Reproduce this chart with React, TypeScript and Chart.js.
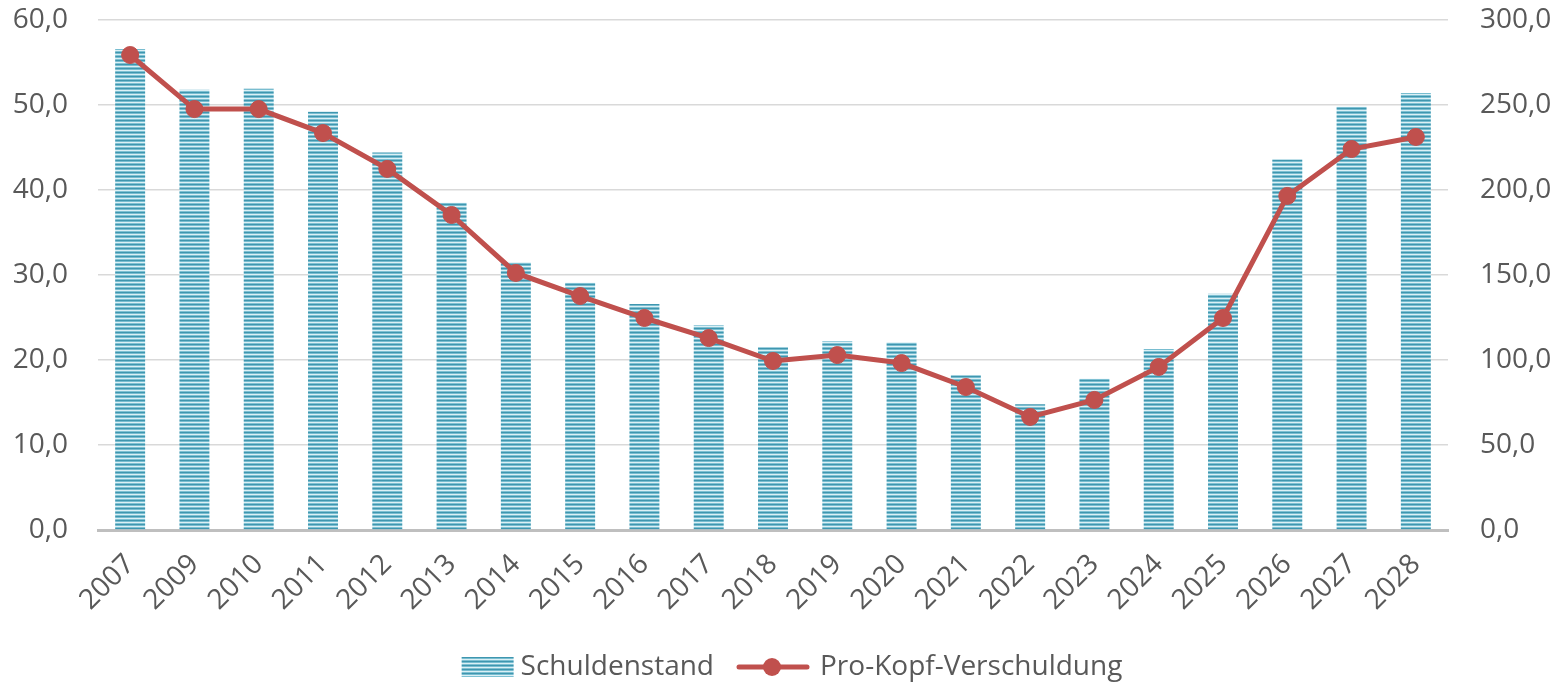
import React, { useEffect, useRef } from "react";
import { Chart, registerables } from "chart.js";

Chart.register(...registerables);

const years = ["2007", "2009", "2010", "2011", "2012", "2013", "2014", "2015", "2016", "2017", "2018", "2019", "2020", "2021", "2022", "2023", "2024", "2025", "2026", "2027", "2028"];
const schuldenstand = [56.6, 51.8, 51.9, 49.2, 44.4, 38.5, 31.5, 29.1, 26.6, 24.1, 21.5, 22.2, 22.1, 18.2, 14.8, 17.8, 21.3, 27.8, 43.6, 49.8, 51.4];
const proKopf = [279.4, 247.6, 247.6, 233.5, 212.4, 185.3, 151.2, 137.6, 124.7, 112.9, 99.4, 102.9, 98.2, 84.1, 66.5, 76.5, 95.9, 124.7, 196.5, 224.1, 231.2];
const leftTicks = [0, 10, 20, 30, 40, 50, 60];
const rightTicks = [0, 50, 100, 150, 200, 250, 300];
const seriesNames = ["Schuldenstand", "Pro-Kopf-Verschuldung"];

const FONT = "'Open Sans', 'Noto Sans', sans-serif";
const FS = 28;
const TEXT = "#595959";
const LINE = "#c0504d";

function makeStripeCanvas(w: number, h: number) {
  const c = document.createElement("canvas");
  c.width = w;
  c.height = h;
  const ctx = c.getContext("2d")!;
  const rows = ["#3f96af", "#78bdd0", "#dcf0f5", "#7fc1d3"];
  for (let y = 0; y < h; y++) {
    ctx.fillStyle = rows[y % rows.length];
    ctx.fillRect(0, y, w, 1);
  }
  return c;
}

export default function App() {
  const ref = useRef<HTMLCanvasElement | null>(null);

  useEffect(() => {
    document.body.style.margin = "0";
    document.body.style.overflow = "hidden";
    const canvas = ref.current!;
    const ctx = canvas.getContext("2d")!;
    const pattern = ctx.createPattern(makeStripeCanvas(4, 4), "repeat")!;

    const barImg = document.createElement("canvas");
    barImg.width = 100;
    barImg.height = 24;
    {
      const c = barImg.getContext("2d")!;
      const s = makeStripeCanvas(52, 20);
      c.drawImage(s, 37, 2);
    }
    const lineImg = document.createElement("canvas");
    lineImg.width = 100;
    lineImg.height = 24;
    {
      const c = lineImg.getContext("2d")!;
      c.strokeStyle = LINE;
      c.lineWidth = 5;
      c.lineCap = "round";
      c.beginPath();
      c.moveTo(15, 12);
      c.lineTo(83, 12);
      c.stroke();
      c.fillStyle = LINE;
      c.beginPath();
      c.arc(48, 12, 9, 0, Math.PI * 2);
      c.fill();
    }

    const fmt = (v: number) => v.toFixed(1).replace(".", ",");

    const chart = new Chart(canvas, {
      data: {
        labels: years,
        datasets: [
          {
            type: "line",
            label: seriesNames[1],
            data: proKopf,
            yAxisID: "y1",
            borderColor: LINE,
            backgroundColor: LINE,
            borderWidth: 5,
            pointRadius: 8.5,
            pointBackgroundColor: LINE,
            pointBorderColor: LINE,
            pointBorderWidth: 1,
            order: 1,
          },
          {
            type: "bar",
            label: seriesNames[0],
            data: schuldenstand,
            yAxisID: "y",
            backgroundColor: pattern,
            borderWidth: 0,
            categoryPercentage: 1,
            barPercentage: 0.466,
            order: 2,
          },
        ],
      } as any,
      options: {
        responsive: false,
        animation: false,
        layout: { padding: { top: 20, bottom: -6, left: 0, right: 0 } },
        plugins: {
          tooltip: { enabled: false },
          legend: {
            position: "bottom",
            labels: {
              usePointStyle: true,
              pointStyleWidth: 64,
              padding: 28,
              color: TEXT,
              font: { family: FONT, size: FS },
              generateLabels: () => [
                { text: seriesNames[0], pointStyle: barImg as any, fontColor: TEXT, datasetIndex: 1, lineWidth: 0, hidden: false },
                { text: seriesNames[1], pointStyle: lineImg as any, fontColor: TEXT, datasetIndex: 0, lineWidth: 0, hidden: false },
              ] as any,
            },
          },
        },
        scales: {
          x: {
            grid: { display: false, drawTicks: false },
            border: { display: true, color: "#bfbfbf", width: 3 },
            ticks: {
              color: TEXT,
              font: { family: FONT, size: FS },
              minRotation: 45,
              maxRotation: 45,
              autoSkip: false,
              padding: 18,
            },
            afterFit: (s: any) => {
              s.height = 95;
            },
          },
          y: {
            position: "left",
            min: 0,
            max: 60,
            afterBuildTicks: (s: any) => {
              s.ticks = leftTicks.map((v) => ({ value: v }));
            },
            grid: {
              drawTicks: false,
              color: (c: any) => (c.tick && c.tick.value === 0 ? "rgba(0,0,0,0)" : "#d9d9d9"),
              lineWidth: 1.5,
            },
            border: { display: false },
            ticks: {
              color: TEXT,
              font: { family: FONT, size: FS },
              padding: 30,
              callback: (v: any) => fmt(Number(v)),
            },
            afterFit: (s: any) => {
              s.width = 98;
              s.paddingTop = 0;
              s.paddingBottom = 0;
            },
          },
          y1: {
            position: "right",
            min: 0,
            max: 300,
            afterBuildTicks: (s: any) => {
              s.ticks = rightTicks.map((v) => ({ value: v }));
            },
            grid: { display: false, drawTicks: false },
            border: { display: false },
            ticks: {
              color: TEXT,
              font: { family: FONT, size: FS },
              padding: 32,
              callback: (v: any) => fmt(Number(v)),
            },
            afterFit: (s: any) => {
              s.width = 117;
              s.paddingTop = 0;
              s.paddingBottom = 0;
            },
          },
        },
      } as any,
    });
    return () => chart.destroy();
  }, []);

  return (
    <div style={{ position: "absolute", left: 0, top: 0, width: 1565, height: 685 }}>
      <canvas ref={ref} width={1565} height={685} style={{ display: "block" }} />
    </div>
  );
}
